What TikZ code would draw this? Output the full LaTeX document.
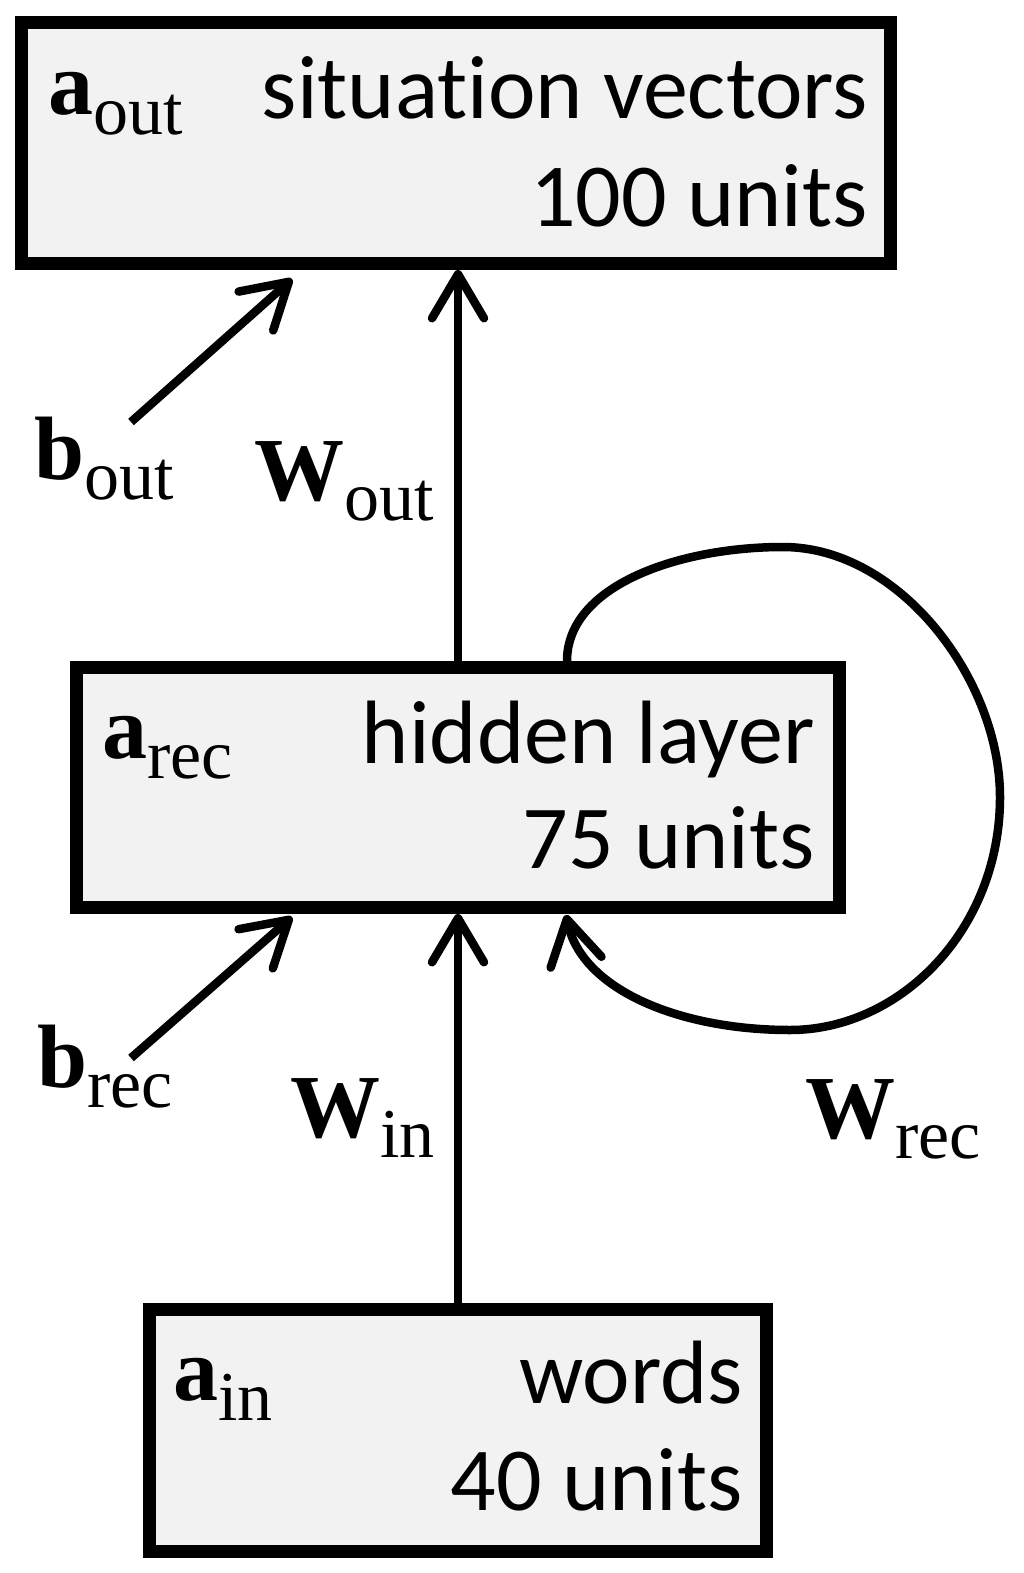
\documentclass[tikz,border=0pt]{standalone}
\usepackage{fontspec}
\setmainfont{Liberation Serif}
\newfontfamily\boxfont[Ligatures={NoCommon}]{Carlito}
\usetikzlibrary{arrows.meta}
\definecolor{boxgray}{HTML}{F2F2F2}
\newcommand\lblsub[1]{\raisebox{-20pt}{\fontsize{70}{76}\selectfont\mdseries #1}}
\begin{document}
\begin{tikzpicture}[x=1pt,y=-1pt,
  box/.style={draw, line width=13pt, fill=boxgray, inner sep=0pt},
  conn/.style={line width=8.5pt, -{Straight Barb[length=44pt,width=52pt,round]}},
  btxt/.style={inner sep=0pt, font=\boxfont\fontsize{90}{108}\selectfont},
  ltxt/.style={inner sep=0pt, font=\fontsize{90}{110}\selectfont\bfseries},
]
\useasboundingbox (0,0) rectangle (1024,1573);
% boxes
\node[box, minimum width=869pt, minimum height=241pt] (top) at (456,143) {};
\node[box, minimum width=763pt, minimum height=240pt] (hid) at (458,787.5) {};
\node[box, minimum width=617pt, minimum height=242pt] (wrd) at (458,1430.5) {};
% box texts
\node[ltxt, anchor=base west] (aout) at (48,115) {a\lblsub{out}};
\node[btxt, anchor=base east] (sit) at (868,119) {situation vectors};
\node[btxt, anchor=base east] (u100) at (868,226) {100 units};
\node[ltxt, anchor=base west] (arec) at (102,758) {a\lblsub{rec}};
\node[btxt, anchor=base east] (hl) at (815,763) {hidden layer};
\node[btxt, anchor=base east] (u75) at (815,868) {75 units};
\node[ltxt, anchor=base west] (ain) at (173,1400) {a\lblsub{in}};
\node[btxt, anchor=base east] (wds) at (743,1403) {words};
\node[btxt, anchor=base east] (u40) at (743,1510) {40 units};
% outside labels
\node[ltxt, anchor=base west] (bout) at (34,479) {b\lblsub{out}};
\node[ltxt, anchor=base west] (wout) at (254,500) {W\lblsub{out}};
\node[ltxt, anchor=base west] (brec) at (37,1087) {b\lblsub{rec}};
\node[ltxt, anchor=base west] (win) at (290,1137) {W\lblsub{in}};
\node[ltxt, anchor=base west] (wrec) at (805,1138) {W\lblsub{rec}};
% connector ends
\coordinate (boS) at (131,422);
\coordinate (boE) at (292,279);
\coordinate (brS) at (131,1058);
\coordinate (brE) at (292,917);
\coordinate (lpS) at (567,661);
\coordinate (lpE) at (566,915);
% connectors
\draw[conn] (hid.north) -- (hid.north |- top.south);
\draw[conn] (wrd.north) -- (wrd.north |- hid.south);
\draw[conn] (boS) -- (boE);
\draw[conn] (brS) -- (brE);
\draw[conn] (lpS) .. controls (567,585) and (680,547) .. (783,547)
  .. controls (900,547) and (1000,680) .. (1000,797)
  .. controls (1000,930) and (900,1030) .. (790,1030)
  .. controls (680,1030) and (582,990) .. (lpE);
\end{tikzpicture}
\end{document}
